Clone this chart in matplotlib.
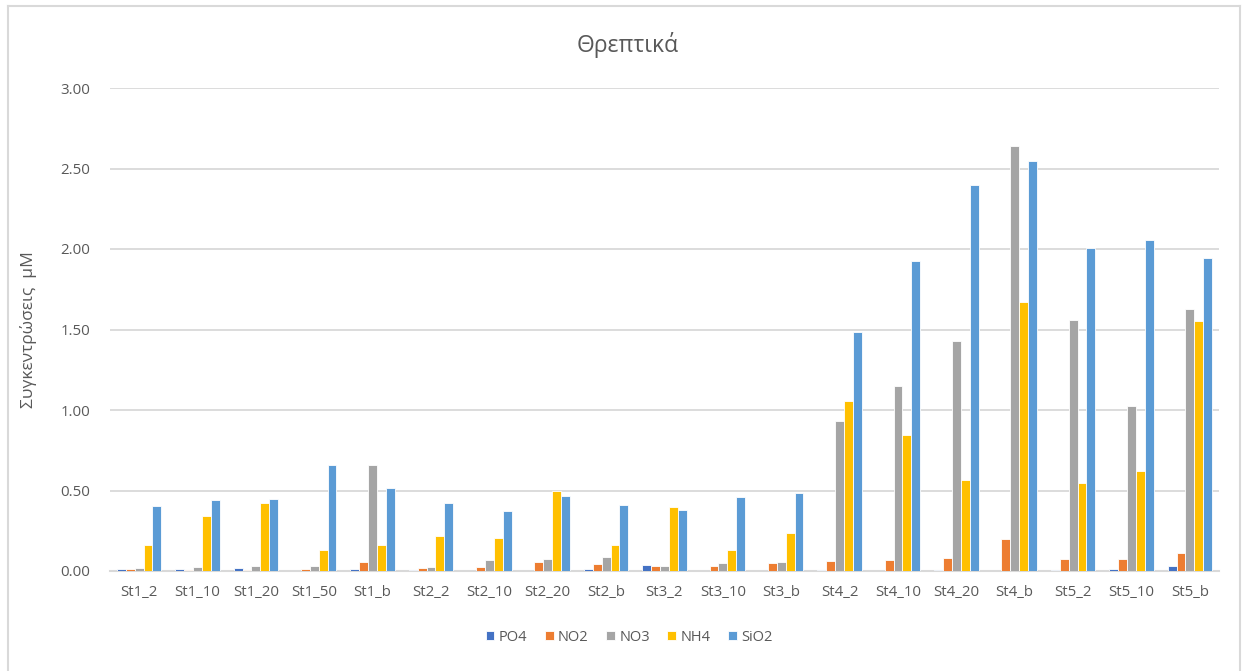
import matplotlib.pyplot as plt
import numpy as np
from matplotlib.lines import Line2D

plt.rcParams['font.family'] = ['Open Sans', 'DejaVu Sans']

# Stations / depths
stations = ['St1_2', 'St1_10', 'St1_20', 'St1_50', 'St1_b',
            'St2_2', 'St2_10', 'St2_20', 'St2_b',
            'St3_2', 'St3_10', 'St3_b',
            'St4_2', 'St4_10', 'St4_20', 'St4_b',
            'St5_2', 'St5_10', 'St5_b']

# Concentrations (uM)
po4 = [0.012, 0.012, 0.019, 0.0, 0.012, 0.006, 0.0, 0.0, 0.012,
       0.035, 0.0, 0.0, 0.006, 0.0, 0.006, 0.0, 0.006, 0.014, 0.029]
no2 = [0.012, 0.006, 0.006, 0.012, 0.056, 0.020, 0.027, 0.054, 0.042,
       0.033, 0.033, 0.048, 0.060, 0.068, 0.083, 0.200, 0.075, 0.075, 0.114]
no3 = [0.020, 0.027, 0.033, 0.033, 0.660, 0.027, 0.067, 0.075, 0.088,
       0.033, 0.048, 0.054, 0.932, 1.149, 1.431, 2.638, 1.557, 1.023, 1.627]
nh4 = [0.160, 0.340, 0.420, 0.130, 0.160, 0.220, 0.206, 0.500, 0.160,
       0.400, 0.133, 0.233, 1.056, 0.847, 0.567, 1.669, 0.549, 0.621, 1.555]
sio2 = [0.406, 0.440, 0.450, 0.660, 0.515, 0.420, 0.373, 0.463, 0.413,
        0.379, 0.458, 0.485, 1.484, 1.925, 2.400, 2.545, 2.004, 2.058, 1.944]

series = [('PO4', po4, '#4472C4'),
          ('NO2', no2, '#ED7D31'),
          ('NO3', no3, '#A5A5A5'),
          ('NH4', nh4, '#FFC000'),
          ('SiO2', sio2, '#5B9BD5')]

txt = '#595959'
grid = '#D9D9D9'

fig = plt.figure(figsize=(12.45, 6.71), dpi=100)
ax = fig.add_axes([110 / 1245, 1 - 571 / 671, (1219 - 110) / 1245, (571 - 88) / 671])

x = np.arange(len(stations))
slot = 0.152
for i, (name, vals, col) in enumerate(series):
    ax.bar(x + (i - 2) * slot, vals, width=slot, color=col,
           edgecolor='white', linewidth=0.6, label=name, zorder=3)

ax.set_xlim(-0.5, len(stations) - 0.5)
ax.set_ylim(0, 3.0)
ax.set_yticks(np.arange(0, 3.01, 0.5))
ax.set_yticklabels(['%.2f' % v for v in np.arange(0, 3.01, 0.5)])
ax.set_xticks(x)
ax.set_xticklabels(stations)
ax.tick_params(axis='both', length=0, colors=txt, labelsize=10.8)
ax.tick_params(axis='y', pad=14)
ax.tick_params(axis='x', pad=10)
ax.yaxis.grid(True, color=grid, linewidth=1.3, zorder=0)
for s in ['top', 'right', 'left']:
    ax.spines[s].set_visible(False)
ax.spines['bottom'].set_color(grid)
ax.spines['bottom'].set_linewidth(1.5)
ax.spines['bottom'].set_zorder(1)

ax.set_ylabel('Συγκεντρώσεις  μM', color=txt, fontsize=12.5)
ax.yaxis.set_label_coords(-0.066, 0.5)
fig.text(0.5045, 1 - 45 / 671, 'Θρεπτικά', ha='center', va='center',
         color=txt, fontsize=16.5)

ax.legend(loc='center', bbox_to_anchor=(0.468, -0.137), ncol=5, frameon=False,
          fontsize=10.5, handlelength=0.6, handleheight=0.6, handletextpad=0.3,
          columnspacing=1.2, labelcolor=txt)

# chart area border (bottom edge cut off in the reference)
bc = '#D9D9D9'
fig.add_artist(Line2D([8 / 1245, 8 / 1245], [0, 1 - 6 / 671], color=bc, lw=1.5))
fig.add_artist(Line2D([8 / 1245, 1240 / 1245], [1 - 6 / 671, 1 - 6 / 671], color=bc, lw=1.5))
fig.add_artist(Line2D([1240 / 1245, 1240 / 1245], [0, 1 - 6 / 671], color=bc, lw=1.5))

fig.savefig('out.png', dpi=100)
